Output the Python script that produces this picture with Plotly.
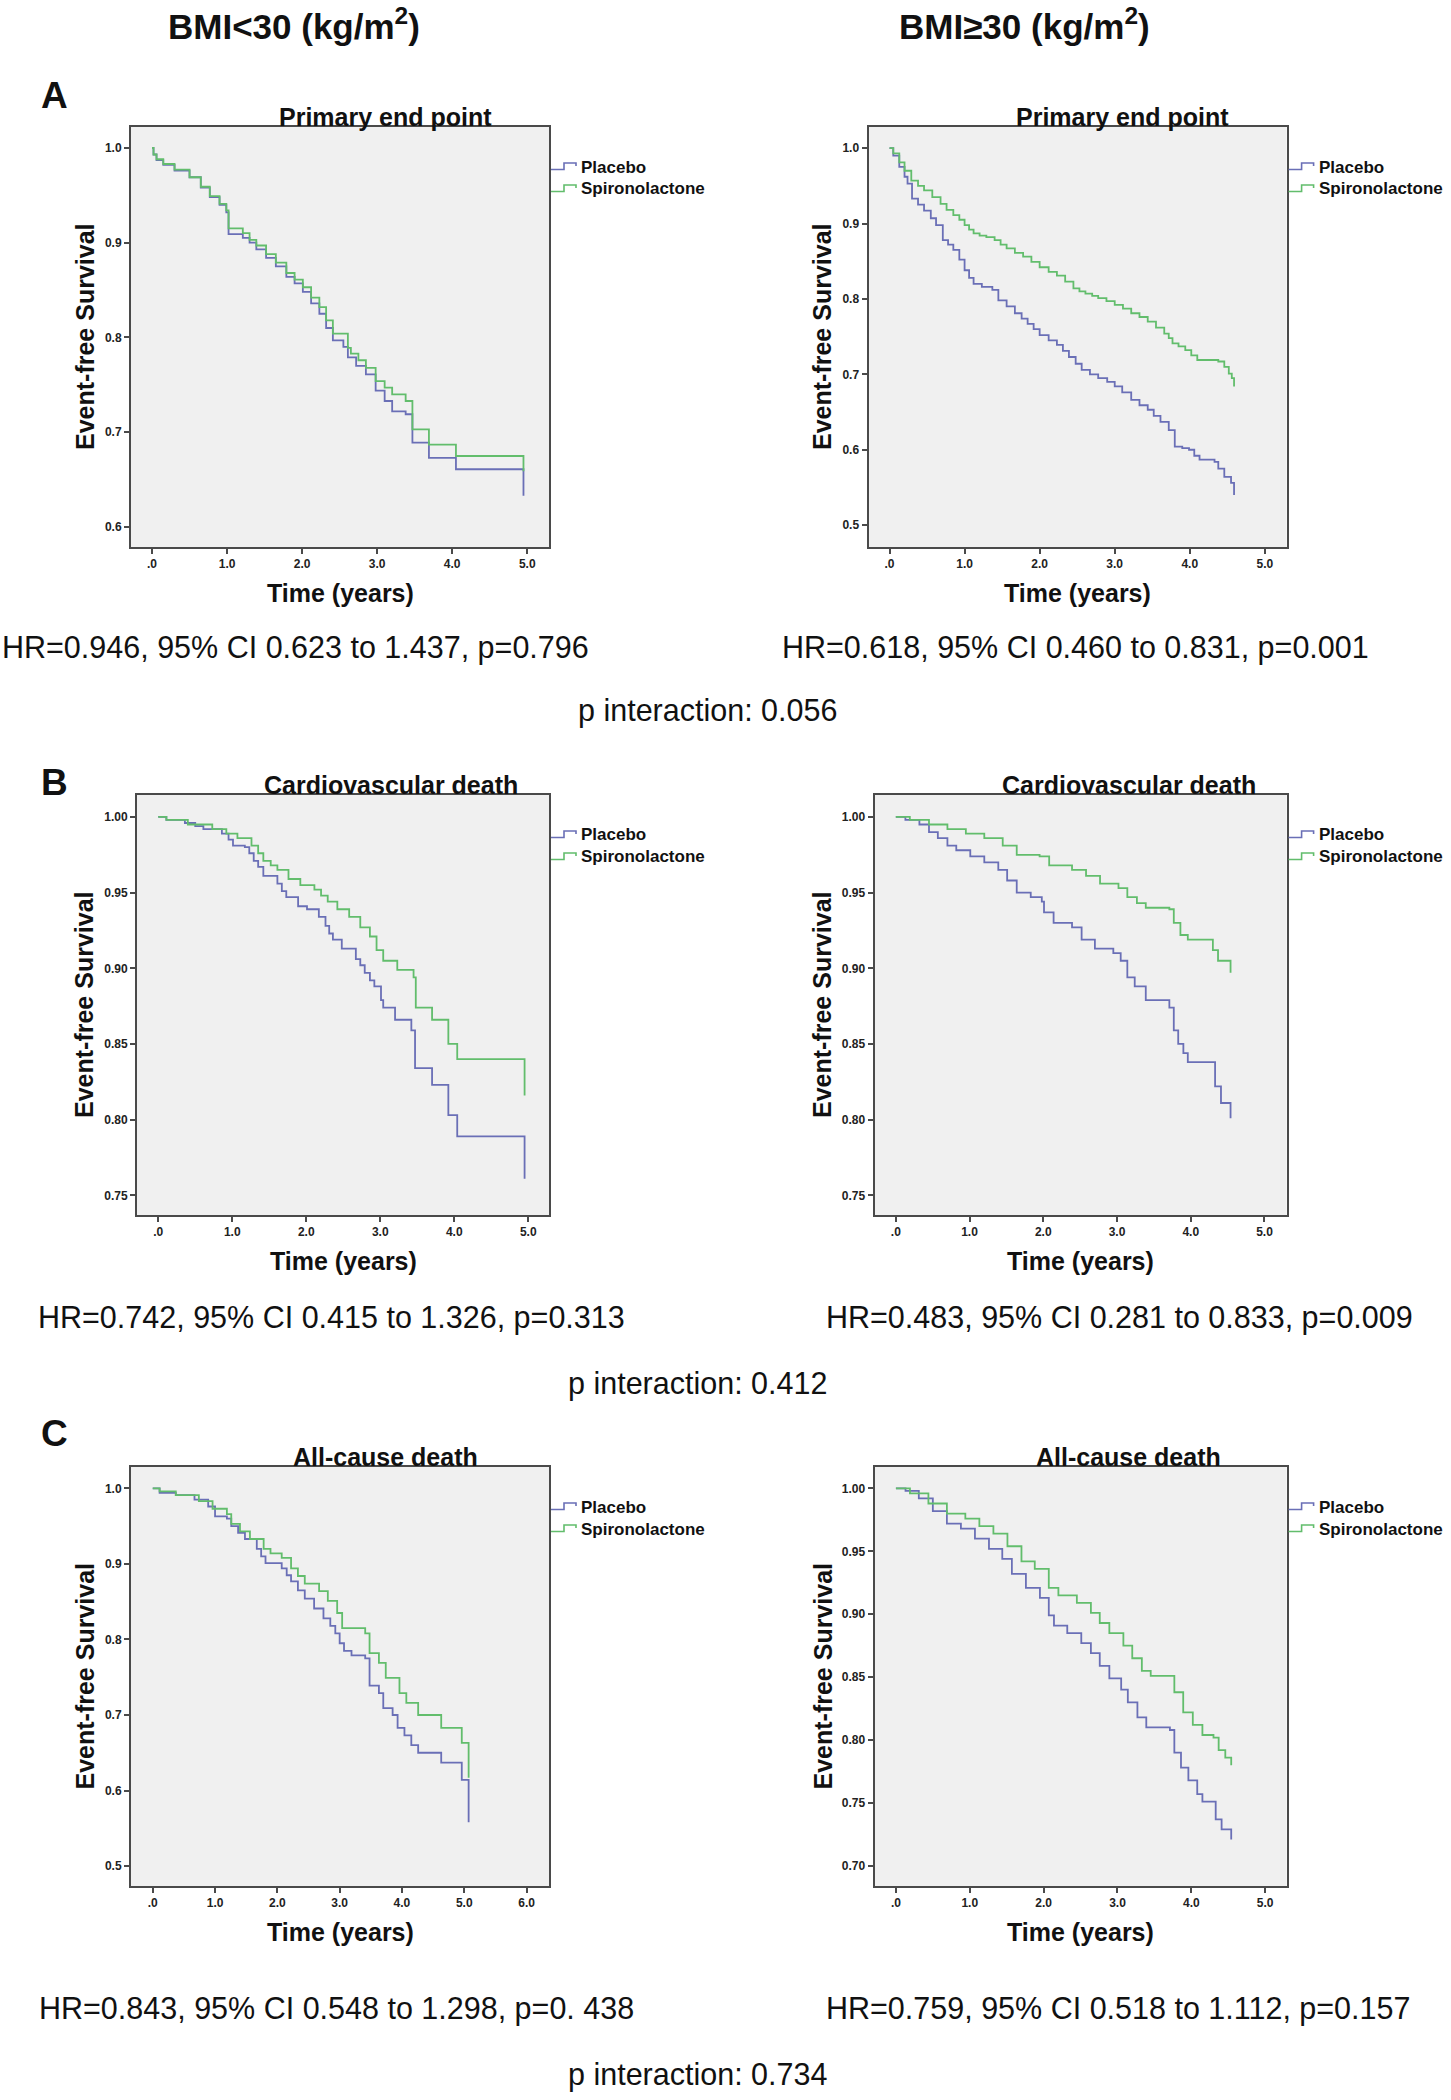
import plotly.graph_objects as go

W, H = 1451, 2100

# ---------------- data ----------------
column_headers = ["BMI<30 (kg/m<sup>2</sup>)", "BMI≥30 (kg/m<sup>2</sup>)"]
panel_letters = ["A", "B", "C"]
endpoint_titles = ["Primary end point", "Cardiovascular death", "All-cause death"]
series_names = ["Placebo", "Spironolactone"]

hr_texts = [
    "HR=0.946, 95% CI 0.623 to 1.437, p=0.796",
    "HR=0.618, 95% CI 0.460 to 0.831, p=0.001",
    "HR=0.742, 95% CI 0.415 to 1.326, p=0.313",
    "HR=0.483, 95% CI 0.281 to 0.833, p=0.009",
    "HR=0.843, 95% CI 0.548 to 1.298, p=0. 438",
    "HR=0.759, 95% CI 0.518 to 1.112, p=0.157",
]
p_interaction = ["p interaction: 0.056", "p interaction: 0.412", "p interaction: 0.734"]

# Panel A, BMI<30
a_low_t_placebo = [0, 0.02, 0.06, 0.15, 0.3, 0.5, 0.65, 0.77, 0.9, 0.99, 1.02, 1.21, 1.3, 1.39, 1.52, 1.65,
                   1.79, 1.9, 2.01, 2.12, 2.23, 2.32, 2.41, 2.55, 2.61, 2.72, 2.85, 2.98, 3.1, 3.2, 3.38,
                   3.47, 3.69, 4.05, 4.95]
a_low_s_placebo = [1.0, 0.993, 0.987, 0.982, 0.976, 0.969, 0.958, 0.948, 0.94, 0.932, 0.909, 0.905, 0.9,
                   0.893, 0.884, 0.875, 0.864, 0.857, 0.848, 0.836, 0.825, 0.81, 0.797, 0.79, 0.779, 0.77,
                   0.761, 0.744, 0.733, 0.722, 0.719, 0.689, 0.673, 0.661, 0.633]
a_low_t_spiro = [0, 0.02, 0.06, 0.15, 0.3, 0.5, 0.65, 0.77, 0.9, 0.99, 1.02, 1.21, 1.3, 1.39, 1.52, 1.65,
                 1.79, 1.9, 2.01, 2.12, 2.23, 2.32, 2.41, 2.61, 2.65, 2.75, 2.85, 2.98, 3.1, 3.2, 3.38,
                 3.47, 3.69, 4.05, 4.95]
a_low_s_spiro = [1.0, 0.993, 0.988, 0.983, 0.977, 0.969, 0.959, 0.949, 0.941, 0.934, 0.915, 0.91, 0.903,
                 0.897, 0.888, 0.879, 0.868, 0.861, 0.853, 0.842, 0.832, 0.818, 0.804, 0.789, 0.783, 0.776,
                 0.768, 0.754, 0.747, 0.74, 0.733, 0.703, 0.687, 0.675, 0.659]

# Panel A, BMI>=30
a_high_t_placebo = [0, 0.05, 0.13, 0.2, 0.24, 0.3, 0.38, 0.46, 0.55, 0.62, 0.71, 0.78, 0.85, 0.93, 1.0,
                    1.06, 1.12, 1.23, 1.37, 1.45, 1.56, 1.67, 1.76, 1.84, 1.92, 2.0, 2.12, 2.23, 2.31, 2.39,
                    2.48, 2.56, 2.67, 2.78, 2.9, 3.0, 3.1, 3.22, 3.33, 3.44, 3.52, 3.61, 3.72, 3.8, 3.9,
                    3.99, 4.06, 4.13, 4.33, 4.38, 4.46, 4.55, 4.59]
a_high_s_placebo = [1.0, 0.99, 0.975, 0.962, 0.953, 0.933, 0.925, 0.917, 0.907, 0.898, 0.878, 0.872, 0.865,
                    0.852, 0.838, 0.828, 0.82, 0.816, 0.812, 0.798, 0.79, 0.781, 0.774, 0.767, 0.76, 0.752,
                    0.745, 0.739, 0.731, 0.723, 0.714, 0.706, 0.7, 0.695, 0.69, 0.684, 0.676, 0.666, 0.659,
                    0.653, 0.645, 0.637, 0.626, 0.604, 0.602, 0.6, 0.592, 0.587, 0.584, 0.575, 0.564,
                    0.556, 0.54]
a_high_t_spiro = [0, 0.05, 0.13, 0.2, 0.29, 0.38, 0.46, 0.57, 0.68, 0.76, 0.85, 0.93, 1.0, 1.06, 1.12, 1.2,
                  1.29, 1.4, 1.48, 1.56, 1.67, 1.78, 1.89, 2.0, 2.12, 2.23, 2.34, 2.45, 2.53, 2.61, 2.7,
                  2.78, 2.89, 3.0, 3.11, 3.22, 3.33, 3.44, 3.55, 3.66, 3.72, 3.77, 3.85, 3.94, 4.02, 4.1,
                  4.38, 4.46, 4.52, 4.56, 4.59]
a_high_s_spiro = [1.0, 0.993, 0.981, 0.97, 0.957, 0.95, 0.944, 0.935, 0.926, 0.918, 0.911, 0.905, 0.898,
                  0.892, 0.887, 0.884, 0.882, 0.878, 0.872, 0.867, 0.861, 0.856, 0.849, 0.842, 0.836,
                  0.831, 0.823, 0.814, 0.81, 0.807, 0.804, 0.801, 0.797, 0.792, 0.787, 0.781, 0.776, 0.77,
                  0.762, 0.754, 0.748, 0.741, 0.737, 0.732, 0.725, 0.719, 0.717, 0.71, 0.701, 0.695, 0.684]

# Panel B, BMI<30
b_low_t_placebo = [0, 0.11, 0.36, 0.5, 0.61, 0.86, 0.95, 1.01, 1.17, 1.23, 1.29, 1.35, 1.42, 1.61, 1.67,
                   1.73, 1.89, 2.01, 2.17, 2.26, 2.31, 2.36, 2.48, 2.67, 2.73, 2.79, 2.86, 2.92, 3.01, 3.04,
                   3.2, 3.42, 3.47, 3.7, 3.92, 4.04, 4.95]
b_low_s_placebo = [1.0, 0.998, 0.996, 0.994, 0.992, 0.989, 0.985, 0.981, 0.98, 0.976, 0.971, 0.967, 0.961,
                   0.956, 0.951, 0.947, 0.941, 0.939, 0.934, 0.928, 0.923, 0.919, 0.913, 0.906, 0.902,
                   0.897, 0.892, 0.888, 0.879, 0.874, 0.866, 0.859, 0.834, 0.823, 0.803, 0.789, 0.761]
b_low_t_spiro = [0, 0.11, 0.4, 0.73, 0.92, 1.07, 1.26, 1.35, 1.42, 1.52, 1.61, 1.76, 1.92, 2.11, 2.2, 2.29,
                 2.42, 2.58, 2.73, 2.86, 2.95, 3.04, 3.23, 3.45, 3.48, 3.7, 3.92, 4.04, 4.95]
b_low_s_spiro = [1.0, 0.998, 0.995, 0.992, 0.989, 0.986, 0.981, 0.976, 0.971, 0.968, 0.965, 0.959, 0.955,
                 0.952, 0.948, 0.944, 0.939, 0.934, 0.927, 0.921, 0.912, 0.905, 0.899, 0.894, 0.874,
                 0.866, 0.85, 0.84, 0.816]

# Panel B, BMI>=30
b_high_t_placebo = [0, 0.13, 0.32, 0.45, 0.57, 0.7, 0.82, 1.01, 1.2, 1.39, 1.51, 1.64, 1.83, 1.98, 2.01,
                    2.14, 2.39, 2.52, 2.7, 2.95, 3.05, 3.14, 3.24, 3.39, 3.71, 3.77, 3.83, 3.9, 3.96, 4.33,
                    4.41, 4.54]
b_high_s_placebo = [1.0, 0.998, 0.995, 0.99, 0.986, 0.981, 0.978, 0.974, 0.97, 0.965, 0.958, 0.95, 0.947,
                    0.944, 0.937, 0.93, 0.927, 0.919, 0.913, 0.91, 0.905, 0.894, 0.888, 0.879, 0.874, 0.859,
                    0.85, 0.844, 0.838, 0.822, 0.811, 0.801]
b_high_t_spiro = [0, 0.19, 0.45, 0.7, 0.95, 1.2, 1.45, 1.64, 1.95, 2.08, 2.39, 2.58, 2.77, 3.02, 3.14, 3.27,
                  3.39, 3.71, 3.77, 3.86, 3.96, 4.3, 4.37, 4.54]
b_high_s_spiro = [1.0, 0.998, 0.995, 0.992, 0.989, 0.986, 0.981, 0.975, 0.974, 0.968, 0.965, 0.961, 0.956,
                  0.953, 0.947, 0.943, 0.94, 0.939, 0.93, 0.922, 0.919, 0.912, 0.905, 0.897]

# Panel C, BMI<30
c_low_t_placebo = [0, 0.11, 0.37, 0.67, 0.89, 1.0, 1.19, 1.26, 1.37, 1.48, 1.67, 1.74, 1.81, 2.07, 2.15,
                   2.22, 2.33, 2.44, 2.59, 2.74, 2.85, 2.93, 3.0, 3.07, 3.19, 3.41, 3.48, 3.63, 3.7, 3.85,
                   3.93, 4.04, 4.15, 4.26, 4.63, 4.96, 5.07]
c_low_s_placebo = [1.0, 0.994, 0.991, 0.985, 0.976, 0.963, 0.96, 0.95, 0.941, 0.933, 0.92, 0.91, 0.901,
                   0.894, 0.885, 0.877, 0.865, 0.854, 0.841, 0.828, 0.818, 0.808, 0.795, 0.785, 0.779,
                   0.775, 0.739, 0.729, 0.709, 0.7, 0.683, 0.673, 0.66, 0.65, 0.637, 0.614, 0.558]
c_low_t_spiro = [0, 0.11, 0.37, 0.74, 0.96, 1.19, 1.26, 1.4, 1.56, 1.78, 1.89, 2.07, 2.22, 2.33, 2.44,
                 2.67, 2.81, 2.96, 3.04, 3.41, 3.48, 3.63, 3.74, 3.96, 4.07, 4.26, 4.63, 4.96, 5.07]
c_low_s_spiro = [1.0, 0.996, 0.991, 0.983, 0.973, 0.966, 0.953, 0.943, 0.933, 0.92, 0.914, 0.908, 0.894,
                 0.884, 0.874, 0.864, 0.851, 0.835, 0.815, 0.808, 0.782, 0.769, 0.749, 0.729, 0.716, 0.7,
                 0.683, 0.663, 0.617]

# Panel C, BMI>=30
c_high_t_placebo = [0, 0.13, 0.31, 0.5, 0.69, 0.88, 1.07, 1.26, 1.44, 1.57, 1.76, 1.95, 2.07, 2.14, 2.32,
                    2.51, 2.64, 2.76, 2.89, 3.05, 3.14, 3.27, 3.39, 3.71, 3.77, 3.86, 3.96, 4.08, 4.15, 4.33,
                    4.41, 4.54]
c_high_s_placebo = [1.0, 0.998, 0.992, 0.982, 0.972, 0.968, 0.96, 0.952, 0.944, 0.932, 0.921, 0.913, 0.899,
                    0.891, 0.885, 0.877, 0.869, 0.859, 0.849, 0.84, 0.83, 0.818, 0.81, 0.808, 0.79, 0.778,
                    0.768, 0.757, 0.751, 0.737, 0.729, 0.721]
c_high_t_spiro = [0, 0.19, 0.44, 0.69, 0.94, 1.13, 1.32, 1.51, 1.7, 1.88, 2.07, 2.2, 2.45, 2.64, 2.76, 2.89,
                  3.08, 3.2, 3.33, 3.45, 3.77, 3.89, 4.02, 4.15, 4.3, 4.37, 4.46, 4.54]
c_high_s_spiro = [1.0, 0.996, 0.988, 0.98, 0.976, 0.97, 0.964, 0.954, 0.942, 0.936, 0.921, 0.915, 0.909,
                  0.901, 0.893, 0.885, 0.875, 0.865, 0.855, 0.851, 0.838, 0.822, 0.812, 0.804, 0.802, 0.792,
                  0.786, 0.78]

x_ticks_5 = [0, 1, 2, 3, 4, 5]
x_ticks_6 = [0, 1, 2, 3, 4, 5, 6]
x_ticktext_5 = [".0", "1.0", "2.0", "3.0", "4.0", "5.0"]
x_ticktext_6 = [".0", "1.0", "2.0", "3.0", "4.0", "5.0", "6.0"]
y_ticks_a_low = [0.6, 0.7, 0.8, 0.9, 1.0]
y_ticktext_a_low = ["0.6", "0.7", "0.8", "0.9", "1.0"]
y_ticks_tenths = [0.5, 0.6, 0.7, 0.8, 0.9, 1.0]
y_ticktext_tenths = ["0.5", "0.6", "0.7", "0.8", "0.9", "1.0"]
y_ticks_b = [0.75, 0.80, 0.85, 0.90, 0.95, 1.00]
y_ticktext_b = ["0.75", "0.80", "0.85", "0.90", "0.95", "1.00"]
y_ticks_c_high = [0.70, 0.75, 0.80, 0.85, 0.90, 0.95, 1.00]
y_ticktext_c_high = ["0.70", "0.75", "0.80", "0.85", "0.90", "0.95", "1.00"]

# ---------------- styling / layout ----------------
FONT = "Liberation Sans, Arial, Helvetica, sans-serif"
C_PLACEBO = "#6a6fb6"
C_SPIRO = "#62bd6c"
AXIS_COLOR = "#4a4a4a"


def px(x):
    return x / W


def py(y):
    return 1 - y / H


# panel boxes in pixels: left, top, right, bottom
panels = [
    dict(box=(131, 127, 549, 547), xr=[-0.28, 5.29], yr=[0.579, 1.022],
         tp=a_low_t_placebo, sp=a_low_s_placebo, ts=a_low_t_spiro, ss=a_low_s_spiro,
         xt=x_ticks_5, xtt=x_ticktext_5, yt=y_ticks_a_low, ytt=y_ticktext_a_low,
         title=endpoint_titles[0], ytitle_x=85),
    dict(box=(868.5, 127, 1286.6, 547), xr=[-0.28, 5.29], yr=[0.471, 1.028],
         tp=a_high_t_placebo, sp=a_high_s_placebo, ts=a_high_t_spiro, ss=a_high_s_spiro,
         xt=x_ticks_5, xtt=x_ticktext_5, yt=y_ticks_tenths, ytt=y_ticktext_tenths,
         title=endpoint_titles[0], ytitle_x=822),
    dict(box=(137, 795, 549, 1215), xr=[-0.287, 5.28], yr=[0.737, 1.0145],
         tp=b_low_t_placebo, sp=b_low_s_placebo, ts=b_low_t_spiro, ss=b_low_s_spiro,
         xt=x_ticks_5, xtt=x_ticktext_5, yt=y_ticks_b, ytt=y_ticktext_b,
         title=endpoint_titles[1], ytitle_x=84),
    dict(box=(874.5, 795, 1286.6, 1215), xr=[-0.289, 5.30], yr=[0.737, 1.0145],
         tp=b_high_t_placebo, sp=b_high_s_placebo, ts=b_high_t_spiro, ss=b_high_s_spiro,
         xt=x_ticks_5, xtt=x_ticktext_5, yt=y_ticks_b, ytt=y_ticktext_b,
         title=endpoint_titles[1], ytitle_x=822),
    dict(box=(131, 1467, 549, 1886), xr=[-0.349, 6.36], yr=[0.4736, 1.0283],
         tp=c_low_t_placebo, sp=c_low_s_placebo, ts=c_low_t_spiro, ss=c_low_s_spiro,
         xt=x_ticks_6, xtt=x_ticktext_6, yt=y_ticks_tenths, ytt=y_ticktext_tenths,
         title=endpoint_titles[2], ytitle_x=84),
    dict(box=(874.5, 1467, 1286.6, 1886), xr=[-0.29, 5.29], yr=[0.684, 1.017],
         tp=c_high_t_placebo, sp=c_high_s_placebo, ts=c_high_t_spiro, ss=c_high_s_spiro,
         xt=x_ticks_5, xtt=x_ticktext_5, yt=y_ticks_c_high, ytt=y_ticktext_c_high,
         title=endpoint_titles[2], ytitle_x=822),
]

fig = go.Figure()
annotations = []
shapes = []
layout_axes = {}

for i, p in enumerate(panels, start=1):
    L, T, R, B = p["box"]
    xa = "x" if i == 1 else f"x{i}"
    ya = "y" if i == 1 else f"y{i}"
    xkey = "xaxis" if i == 1 else f"xaxis{i}"
    ykey = "yaxis" if i == 1 else f"yaxis{i}"

    fig.add_trace(go.Scatter(x=p["tp"], y=p["sp"], mode="lines", line_shape="hv",
                             line=dict(color=C_PLACEBO, width=1.8), name=series_names[0],
                             xaxis=xa, yaxis=ya, showlegend=False))
    fig.add_trace(go.Scatter(x=p["ts"], y=p["ss"], mode="lines", line_shape="hv",
                             line=dict(color=C_SPIRO, width=1.8), name=series_names[1],
                             xaxis=xa, yaxis=ya, showlegend=False))

    common = dict(showline=True, mirror=True, linecolor=AXIS_COLOR, linewidth=2,
                  ticks="outside", ticklen=5, tickwidth=1.5, tickcolor=AXIS_COLOR,
                  showgrid=False, zeroline=False, fixedrange=True,
                  tickfont=dict(family=FONT, size=12, color="#222222", weight="bold"))
    layout_axes[xkey] = dict(domain=[px(L), px(R)], anchor=ya, range=p["xr"],
                             tickmode="array", tickvals=p["xt"], ticktext=p["xtt"], **common)
    layout_axes[ykey] = dict(domain=[py(B), py(T)], anchor=xa, range=p["yr"],
                             tickmode="array", tickvals=p["yt"], ticktext=p["ytt"], **common)

    # panel title (endpoint)
    annotations.append(dict(text=p["title"], x=px(L + 254), y=py(T - 10), xref="paper", yref="paper",
                            xanchor="center", yanchor="middle", showarrow=False,
                            font=dict(family=FONT, size=25, color="#111111", weight="bold")))
    # y-axis title
    annotations.append(dict(text="Event-free Survival", x=px(p["ytitle_x"]), y=py((T + B) / 2),
                            xref="paper", yref="paper", textangle=-90, xanchor="center",
                            yanchor="middle", showarrow=False,
                            font=dict(family=FONT, size=25, color="#111111", weight="bold")))
    # x-axis title
    annotations.append(dict(text="Time (years)", x=px((L + R) / 2), y=py(B + 46),
                            xref="paper", yref="paper", xanchor="center", yanchor="middle",
                            showarrow=False,
                            font=dict(family=FONT, size=25, color="#111111", weight="bold")))

    # legend: step-shaped glyphs + labels
    for k, (name, col) in enumerate(zip(series_names, [C_PLACEBO, C_SPIRO])):
        yc = T + 40 + 22 * k
        x0 = R + 2
        path = (f"M {px(x0)},{py(yc + 2.5)} L {px(x0 + 13)},{py(yc + 2.5)} "
                f"L {px(x0 + 13)},{py(yc - 4)} L {px(x0 + 25)},{py(yc - 4)} "
                f"L {px(x0 + 25)},{py(yc - 1)}")
        shapes.append(dict(type="path", path=path, xref="paper", yref="paper",
                           line=dict(color=col, width=1.6)))
        annotations.append(dict(text=name, x=px(R + 30), y=py(yc), xref="paper", yref="paper",
                                xanchor="left", yanchor="middle", showarrow=False,
                                font=dict(family=FONT, size=17, color="#111111", weight="bold")))

# column headers
for text, cx in zip(column_headers, [294, 1024]):
    annotations.append(dict(text=text, x=px(cx), y=py(24), xref="paper", yref="paper",
                            xanchor="center", yanchor="middle", showarrow=False,
                            font=dict(family=FONT, size=35, color="#111111", weight="bold")))

# panel letters
for letter, cy in zip(panel_letters, [96, 783, 1433]):
    annotations.append(dict(text=letter, x=px(54), y=py(cy), xref="paper", yref="paper",
                            xanchor="center", yanchor="middle", showarrow=False,
                            font=dict(family=FONT, size=37, color="#111111", weight="bold")))

# HR texts
hr_pos = [(0, 647), (780, 647), (36, 1317), (824, 1317), (37, 2008), (824, 2008)]
for text, (lx, cy) in zip(hr_texts, hr_pos):
    annotations.append(dict(text=text, x=px(lx), y=py(cy), xref="paper", yref="paper",
                            xanchor="left", yanchor="middle", showarrow=False,
                            font=dict(family=FONT, size=30.5, color="#111111")))

# p interaction texts
for text, (cx, cy) in zip(p_interaction, [(707, 711), (697, 1383), (697, 2074)]):
    annotations.append(dict(text=text, x=px(cx), y=py(cy), xref="paper", yref="paper",
                            xanchor="center", yanchor="middle", showarrow=False,
                            font=dict(family=FONT, size=30.5, color="#111111")))

fig.update_layout(width=W, height=H, margin=dict(l=0, r=0, t=0, b=0),
                  paper_bgcolor="white", plot_bgcolor="#f0f0f0", showlegend=False,
                  annotations=annotations, shapes=shapes, **layout_axes)

# remove the default page margin so the figure sits at the top-left corner of the window
fig.write_html("out.html", config={"displayModeBar": False},
               post_script="document.body.style.margin='0';document.body.style.padding='0';")
